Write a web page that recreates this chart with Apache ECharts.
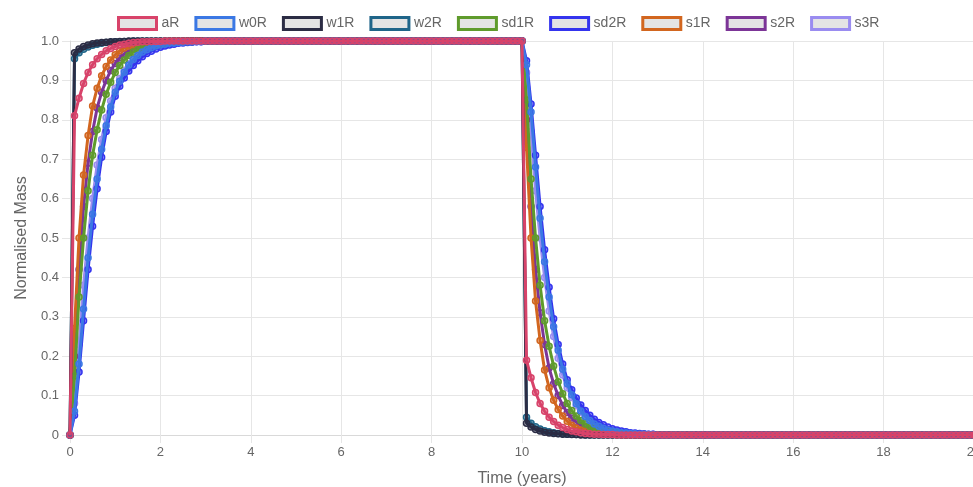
<!DOCTYPE html>
<html>
<head>
<meta charset="utf-8">
<script src="https://cdn.jsdelivr.net/npm/echarts@6/dist/echarts.min.js"></script>
<style>
  html, body { margin: 0; padding: 0; background: #fff; }
  #chart { width: 973px; height: 487px; }
</style>
</head>
<body>
<div id="chart"></div>
<script>
// time grid (years), one sample every 0.1 year
var times = [
  0,0.1,0.2,0.3,0.4,0.5,0.6,0.7,0.8,0.9,
  1,1.1,1.2,1.3,1.4,1.5,1.6,1.7,1.8,1.9,
  2,2.1,2.2,2.3,2.4,2.5,2.6,2.7,2.8,2.9,
  3,3.1,3.2,3.3,3.4,3.5,3.6,3.7,3.8,3.9,
  4,4.1,4.2,4.3,4.4,4.5,4.6,4.7,4.8,4.9,
  5,5.1,5.2,5.3,5.4,5.5,5.6,5.7,5.8,5.9,
  6,6.1,6.2,6.3,6.4,6.5,6.6,6.7,6.8,6.9,
  7,7.1,7.2,7.3,7.4,7.5,7.6,7.7,7.8,7.9,
  8,8.1,8.2,8.3,8.4,8.5,8.6,8.7,8.8,8.9,
  9,9.1,9.2,9.3,9.4,9.5,9.6,9.7,9.8,9.9,
  10,10.1,10.2,10.3,10.4,10.5,10.6,10.7,10.8,10.9,
  11,11.1,11.2,11.3,11.4,11.5,11.6,11.7,11.8,11.9,
  12,12.1,12.2,12.3,12.4,12.5,12.6,12.7,12.8,12.9,
  13,13.1,13.2,13.3,13.4,13.5,13.6,13.7,13.8,13.9,
  14,14.1,14.2,14.3,14.4,14.5,14.6,14.7,14.8,14.9,
  15,15.1,15.2,15.3,15.4,15.5,15.6,15.7,15.8,15.9,
  16,16.1,16.2,16.3,16.4,16.5,16.6,16.7,16.8,16.9,
  17,17.1,17.2,17.3,17.4,17.5,17.6,17.7,17.8,17.9,
  18,18.1,18.2,18.3,18.4,18.5,18.6,18.7,18.8,18.9,
  19,19.1,19.2,19.3,19.4,19.5,19.6,19.7,19.8,19.9,
  20
];

// t = 3.0 .. 9.9 (everything saturated)
var plateau = [
  1,1,1,1,1,1,1,1,1,1, 1,1,1,1,1,1,1,1,1,1, 1,1,1,1,1,1,1,1,1,1,
  1,1,1,1,1,1,1,1,1,1, 1,1,1,1,1,1,1,1,1,1, 1,1,1,1,1,1,1,1,1,1,
  1,1,1,1,1,1,1,1,1,1
];
// t = 13.0 .. 20.0 (everything gone)
var tail = [
  0,0,0,0,0,0,0,0,0,0, 0,0,0,0,0,0,0,0,0,0, 0,0,0,0,0,0,0,0,0,0,
  0,0,0,0,0,0,0,0,0,0, 0,0,0,0,0,0,0,0,0,0, 0,0,0,0,0,0,0,0,0,0,
  0,0,0,0,0,0,0,0,0,0, 0
];

// rise: t = 0.0 .. 2.9, decay: t = 10.0 .. 12.9
var aRRise = [0,0.81,0.855,0.892,0.92,0.94,0.955,0.966,0.975,0.981, 0.986,0.99,0.992,0.994,0.996,0.997,0.998,0.998,0.999,0.999, 0.999,1,1,1,1,1,1,1,1,1];
var aRDecay = [1,0.19,0.145,0.108,0.08,0.06,0.045,0.034,0.025,0.019, 0.014,0.01,0.008,0.006,0.004,0.003,0.002,0.002,0.001,0.001, 0.001,0,0,0,0,0,0,0,0,0];

var w0RRise = [0,0.06,0.18,0.32,0.45,0.56,0.65,0.725,0.785,0.833, 0.87,0.898,0.921,0.939,0.953,0.963,0.972,0.978,0.983,0.987, 0.99,0.992,0.994,0.995,0.996,0.997,0.998,0.998,0.999,0.999];
var w0RDecay = [1,0.94,0.82,0.68,0.55,0.44,0.35,0.275,0.215,0.167, 0.13,0.102,0.079,0.061,0.047,0.037,0.028,0.022,0.017,0.013, 0.01,0.008,0.006,0.005,0.004,0.003,0.002,0.002,0.001,0.001];

var w1RRise = [0,0.97,0.98,0.986,0.99,0.993,0.995,0.996,0.997,0.998, 0.998,0.999,0.999,1,1,1,1,1,1,1, 1,1,1,1,1,1,1,1,1,1];
var w1RDecay = [1,0.03,0.02,0.014,0.01,0.007,0.005,0.004,0.003,0.002, 0.002,0.001,0.001,0,0,0,0,0,0,0, 0,0,0,0,0,0,0,0,0,0];

var w2RRise = [0,0.955,0.97,0.979,0.985,0.989,0.992,0.994,0.996,0.997, 0.998,0.998,0.999,0.999,1,1,1,1,1,1, 1,1,1,1,1,1,1,1,1,1];
var w2RDecay = [1,0.045,0.03,0.021,0.015,0.011,0.008,0.006,0.004,0.003, 0.002,0.002,0.001,0.001,0,0,0,0,0,0, 0,0,0,0,0,0,0,0,0,0];

var sd1RRise = [0,0.15,0.35,0.5,0.62,0.71,0.775,0.825,0.865,0.895, 0.92,0.938,0.952,0.963,0.972,0.978,0.983,0.987,0.99,0.992, 0.994,0.995,0.996,0.997,0.998,0.998,0.999,0.999,1,1];
var sd1RDecay = [1,0.85,0.65,0.5,0.38,0.29,0.225,0.175,0.135,0.105, 0.08,0.062,0.048,0.037,0.028,0.022,0.017,0.013,0.01,0.008, 0.006,0.005,0.004,0.003,0.002,0.002,0.001,0.001,0,0];

var sd2RRise = [0,0.05,0.16,0.29,0.42,0.53,0.625,0.705,0.77,0.82, 0.86,0.885,0.906,0.924,0.938,0.95,0.96,0.968,0.974,0.98, 0.984,0.987,0.99,0.992,0.994,0.995,0.996,0.997,0.998,0.998];
var sd2RDecay = [1,0.95,0.84,0.71,0.58,0.47,0.375,0.295,0.23,0.18, 0.14,0.115,0.094,0.076,0.062,0.05,0.04,0.032,0.026,0.02, 0.016,0.013,0.01,0.008,0.006,0.005,0.004,0.003,0.002,0.002];

var s1RRise = [0,0.27,0.5,0.66,0.76,0.835,0.88,0.912,0.935,0.952, 0.965,0.975,0.982,0.987,0.99,0.993,0.995,0.996,0.997,0.998, 0.999,0.999,1,1,1,1,1,1,1,1];
var s1RDecay = [1,0.73,0.5,0.34,0.24,0.165,0.12,0.088,0.065,0.048, 0.035,0.025,0.018,0.013,0.01,0.007,0.005,0.004,0.003,0.002, 0.001,0.001,0,0,0,0,0,0,0,0];

var s2RRise = [0,0.2,0.42,0.58,0.69,0.77,0.83,0.87,0.9,0.925, 0.943,0.957,0.967,0.975,0.981,0.986,0.989,0.992,0.994,0.995, 0.996,0.997,0.998,0.998,0.999,0.999,1,1,1,1];
var s2RDecay = [1,0.8,0.58,0.42,0.31,0.23,0.17,0.13,0.1,0.075, 0.057,0.043,0.033,0.025,0.019,0.014,0.011,0.008,0.006,0.005, 0.004,0.003,0.002,0.002,0.001,0.001,0,0,0,0];

var s3RRise = [0,0.08,0.23,0.38,0.5,0.6,0.685,0.75,0.805,0.848, 0.88,0.905,0.926,0.942,0.955,0.965,0.972,0.978,0.983,0.987, 0.99,0.992,0.994,0.995,0.996,0.997,0.998,0.998,0.999,0.999];
var s3RDecay = [1,0.92,0.77,0.62,0.5,0.4,0.315,0.25,0.195,0.152, 0.12,0.095,0.074,0.058,0.045,0.035,0.028,0.022,0.017,0.013, 0.01,0.008,0.006,0.005,0.004,0.003,0.002,0.002,0.001,0.001];

var seriesNames = ['aR','w0R','w1R','w2R','sd1R','sd2R','s1R','s2R','s3R'];
var seriesColors = ['#d8436a','#3b78e4','#2b2c44','#1f6589','#5f9b2c','#3434ee','#d2661f','#7c3597','#9a8cf0'];
var seriesParts = [
  [aRRise, aRDecay], [w0RRise, w0RDecay], [w1RRise, w1RDecay],
  [w2RRise, w2RDecay], [sd1RRise, sd1RDecay], [sd2RRise, sd2RDecay],
  [s1RRise, s1RDecay], [s2RRise, s2RDecay], [s3RRise, s3RDecay]
];
var yTickLabels = ['0','0.1','0.2','0.3','0.4','0.5','0.6','0.7','0.8','0.9','1.0'];

function hexA(hex, a) {
  var n = parseInt(hex.slice(1), 16);
  return 'rgba(' + (n >> 16) + ',' + ((n >> 8) & 255) + ',' + (n & 255) + ',' + a + ')';
}

var gridColor = '#e6e6e6';
var font = '"Liberation Sans", Arial, Helvetica, sans-serif';

var series = [];
var legendData = [];
for (var i = 0; i < seriesNames.length; i++) {
  var vals = seriesParts[i][0].concat(plateau, seriesParts[i][1], tail);
  var pts = [];
  for (var k = 0; k < times.length; k++) {
    pts.push([times[k], vals[k]]);
  }
  series.push({
    name: seriesNames[i],
    type: 'line',
    data: pts,
    z: 20 - i,
    symbol: 'circle',
    symbolSize: 6,
    showSymbol: true,
    showAllSymbol: true,
    lineStyle: { color: seriesColors[i], width: 3 },
    itemStyle: { color: hexA(seriesColors[i], 0.45), borderColor: seriesColors[i], borderWidth: 1.5 },
    emphasis: { disabled: true }
  });
  legendData.push({
    name: seriesNames[i],
    icon: 'rect',
    itemStyle: { color: '#e4e4e4', borderColor: seriesColors[i], borderWidth: 3 }
  });
}

var chart = echarts.init(document.getElementById('chart'));
chart.setOption({
  animation: false,
  backgroundColor: '#fff',
  textStyle: { fontFamily: font },
  legend: {
    top: 11,
    left: 112,
    data: legendData,
    itemWidth: 38,
    itemHeight: 12,
    itemGap: 15,
    textStyle: { color: '#666', fontSize: 14, fontFamily: font },
    selectedMode: false
  },
  grid: { left: 70, top: 41, width: 904, height: 394, containLabel: false, outerBoundsMode: 'none' },
  xAxis: {
    type: 'value',
    min: 0,
    max: 20,
    interval: 2,
    name: 'Time (years)',
    nameLocation: 'middle',
    nameGap: 36,
    nameTextStyle: { color: '#666', fontSize: 16, fontFamily: font },
    axisLine: { show: true, lineStyle: { color: '#d9d9d9', width: 1 } },
    axisTick: { show: true, length: 8, lineStyle: { color: gridColor } },
    axisLabel: { color: '#666', fontSize: 13, margin: 11, fontFamily: font },
    splitLine: { show: true, lineStyle: { color: gridColor } }
  },
  yAxis: {
    type: 'value',
    min: 0,
    max: 1,
    interval: 0.1,
    name: 'Normalised Mass',
    nameLocation: 'middle',
    nameGap: 39,
    nameTextStyle: { color: '#666', fontSize: 16, fontFamily: font },
    axisLine: { show: true, lineStyle: { color: '#d9d9d9', width: 1 } },
    axisTick: { show: true, length: 8, lineStyle: { color: gridColor } },
    axisLabel: {
      color: '#666', fontSize: 13, margin: 11, fontFamily: font,
      formatter: function (v) { return yTickLabels[Math.round(v * 10)]; }
    },
    splitLine: { show: true, lineStyle: { color: gridColor } }
  },
  series: series
});
</script>
</body>
</html>
